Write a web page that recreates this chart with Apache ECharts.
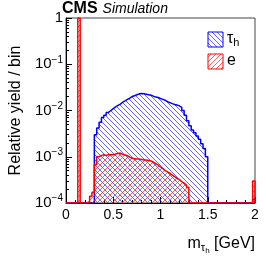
<!DOCTYPE html>
<html><head><meta charset="utf-8">
<script src="https://cdn.jsdelivr.net/npm/echarts@6/dist/echarts.min.js"></script>
<style>html,body{margin:0;padding:0;background:#fff}#c{width:266px;height:258px}</style>
</head><body><div id="c"></div>
<script>
// ---- data ----
const binWidth = 0.025;
const xMin = 0, xMax = 2;
const yMin = 1e-4, yMax = 1;
const xTicks = [0, 0.5, 1, 1.5, 2];
const yTicks = [1e-4, 1e-3, 1e-2, 1e-1, 1];
// 80 bins from 0 to 2 (tau_h, relative yield)
const tauValues = [
  0,0,0,0,0,0,0,0,0,0,0,0,
  3.0e-3,4.2e-3,5.6e-3,7.1e-3,7.9e-3,9.1e-3,1.0e-2,1.1e-2,1.2e-2,1.29e-2,
  1.38e-2,1.51e-2,1.62e-2,1.74e-2,1.86e-2,2.0e-2,2.09e-2,2.19e-2,2.29e-2,2.34e-2,
  2.29e-2,2.24e-2,2.19e-2,2.14e-2,2.04e-2,1.95e-2,1.91e-2,1.82e-2,1.74e-2,1.66e-2,
  1.55e-2,1.48e-2,1.41e-2,1.35e-2,1.32e-2,1.26e-2,1.17e-2,1.0e-2,7.9e-3,6.0e-3,
  4.7e-3,3.8e-3,3.3e-3,2.8e-3,2.4e-3,1.9e-3,1.5e-3,1.0e-3,
  0,0,0,0,0,0,0,0,0,0,0,0,0,0,0,0,0,0,0,
  1.2e-4
];
// 80 bins from 0 to 2 (electrons)
const eleValues = [
  0,0,0,0,0,1.0,0,0,0,1.07e-4,1.4e-4,1.7e-4,
  6.8e-4,1.0e-3,1.07e-3,1.1e-3,1.07e-3,1.1e-3,1.12e-3,1.1e-3,1.15e-3,1.17e-3,
  1.2e-3,1.12e-3,1.1e-3,1.05e-3,9.8e-4,9.3e-4,9.1e-4,8.9e-4,8.9e-4,8.7e-4,
  8.5e-4,8.5e-4,8.3e-4,8.1e-4,7.6e-4,7.1e-4,6.6e-4,6.0e-4,5.5e-4,5.0e-4,
  4.7e-4,4.4e-4,4.0e-4,3.7e-4,3.4e-4,3.2e-4,2.9e-4,2.7e-4,2.45e-4,2.2e-4,
  0,0,0,0,0,0,0,0,0,0,0,0,0,0,0,0,0,0,0,0,0,0,0,0,0,0,0,
  3.0e-4
];
const yMinor = [];
[1e-4,1e-3,1e-2,1e-1].forEach(d => { for (let k = 2; k <= 9; k++) yMinor.push(+(d*k).toPrecision(3)); });

// ---- helpers ----
function stepPoints(vals) {
  const pts = [[xMin, yMin]];
  vals.forEach((v, i) => pts.push([+(xMin + i*binWidth).toFixed(4), Math.max(v, yMin)]));
  pts.push([xMax, Math.max(vals[vals.length-1], yMin)]);
  pts.push([xMax, yMin]);
  return pts;
}
function hatch(color, dir) {
  const s = 5;
  const c = document.createElement('canvas');
  c.width = s; c.height = s;
  const g = c.getContext('2d');
  g.strokeStyle = color; g.lineWidth = 0.9;
  for (let k = -1; k <= 1; k++) {
    g.beginPath();
    if (dir === '\\') { g.moveTo(k*s - 1, -1); g.lineTo(k*s + s + 1, s + 1); }
    else { g.moveTo(k*s - 1, s + 1); g.lineTo(k*s + s + 1, -1); }
    g.stroke();
  }
  return { image: c, repeat: 'repeat' };
}
const blue = '#0000ff', red = '#ff0000';
const blueHatch = hatch('rgba(40,40,255,0.8)', '\\');
const redHatch = hatch('rgba(255,30,30,0.8)', '/');
const FONT = 'Liberation Sans, Arial, Helvetica, sans-serif';

function yLabel(v) {
  if (Math.abs(v - 1) < 1e-9) return '{b|1}';
  const e = Math.round(Math.log10(v));
  return '{b|10}{sup|\u2212' + (-e) + '}';
}

const chart = echarts.init(document.getElementById('c'), null, { renderer: 'canvas' });
chart.setOption({
  animation: false,
  backgroundColor: '#fff',
  grid: { left: 61, right: 11, top: 18, bottom: 55, show: true, borderColor: '#444', borderWidth: 1, backgroundColor: 'transparent' },
  title: {
    text: '{b|CMS} {i|Simulation}', left: 62, top: 0, padding: 0,
    textStyle: { fontWeight: 'normal', rich: {
      b: { fontFamily: FONT, fontWeight: 'bold', fontSize: 16, color: '#000' },
      i: { fontFamily: FONT, fontStyle: 'italic', fontWeight: 'normal', fontSize: 14, color: '#000' }
    } }
  },
  xAxis: {
    type: 'value', min: xMin, max: xMax, interval: 0.5,
    name: 'm{s1|\u03c4}{s2|h} [GeV]', nameLocation: 'end', nameGap: 0,
    nameTextStyle: { fontFamily: FONT, fontSize: 16, color: '#000', align: 'right', verticalAlign: 'top', padding: [30, 0, 0, 0],
      rich: { s1: { fontFamily: FONT, fontSize: 11, padding: [7,0,0,0] }, s2: { fontFamily: FONT, fontSize: 8, padding: [14,0,0,0] } } },
    axisLine: { show: true, lineStyle: { color: '#000', width: 1 } },
    axisTick: { show: true, inside: true, length: 6, lineStyle: { color: '#000' } },
    minorTick: { show: true, splitNumber: 5, length: 3, lineStyle: { color: '#000' } },
    splitLine: { show: false }, minorSplitLine: { show: false },
    axisLabel: { fontFamily: FONT, fontSize: 14, color: '#000', margin: 5,
      customValues: xTicks, formatter: v => String(+v.toFixed(2)) }
  },
  yAxis: [{
    type: 'log', logBase: 10, min: yMin, max: yMax,
    name: 'Relative yield / bin', nameLocation: 'middle', nameGap: 42,
    nameTextStyle: { fontFamily: FONT, fontSize: 16, color: '#000' },
    axisLine: { show: true, lineStyle: { color: '#000', width: 1 } },
    axisTick: { show: true, inside: true, length: 6, lineStyle: { color: '#000' }, customValues: yTicks },
    splitLine: { show: false },
    axisLabel: { margin: 3, customValues: yTicks, formatter: yLabel,
      rich: { b: { fontFamily: FONT, fontSize: 15, color: '#000' },
              sup: { fontFamily: FONT, fontSize: 10, color: '#000', padding: [0,0,9,0] } } }
  }, {
    type: 'log', logBase: 10, min: yMin, max: yMax, position: 'left', offset: 0,
    axisLine: { show: false }, axisLabel: { show: false }, splitLine: { show: false },
    axisTick: { show: true, inside: true, length: 3, lineStyle: { color: '#000' }, customValues: yMinor }
  }],
  series: [{
    name: '\u03c4h', type: 'line', step: 'end', symbol: 'none', data: stepPoints(tauValues),
    lineStyle: { color: blue, width: 1.5 }, itemStyle: { color: blue },
    areaStyle: { color: blueHatch, origin: 'start', opacity: 1 }, z: 2
  }, {
    name: 'e', type: 'line', step: 'end', symbol: 'none', data: stepPoints(eleValues),
    lineStyle: { color: red, width: 1.5 }, itemStyle: { color: red },
    areaStyle: { color: redHatch, origin: 'start', opacity: 1 }, z: 3
  }],
  graphic: [
    { type: 'rect', shape: { x: 208, y: 32, width: 15, height: 15 }, style: { fill: blueHatch, stroke: blue, lineWidth: 1 }, z: 10 },
    { type: 'text', x: 227, y: 39, style: { text: '{a|\u03c4}{s|h}', fill: '#000', verticalAlign: 'middle',
      rich: { a: { fontFamily: FONT, fontSize: 16 }, s: { fontFamily: FONT, fontSize: 11, padding: [8,0,0,0] } } }, z: 10 },
    { type: 'rect', shape: { x: 208, y: 54, width: 15, height: 15 }, style: { fill: redHatch, stroke: red, lineWidth: 1 }, z: 10 },
    { type: 'text', x: 227, y: 61, style: { text: 'e', fill: '#000', verticalAlign: 'middle', font: '16px ' + FONT }, z: 10 }
  ]
});
</script></body></html>
